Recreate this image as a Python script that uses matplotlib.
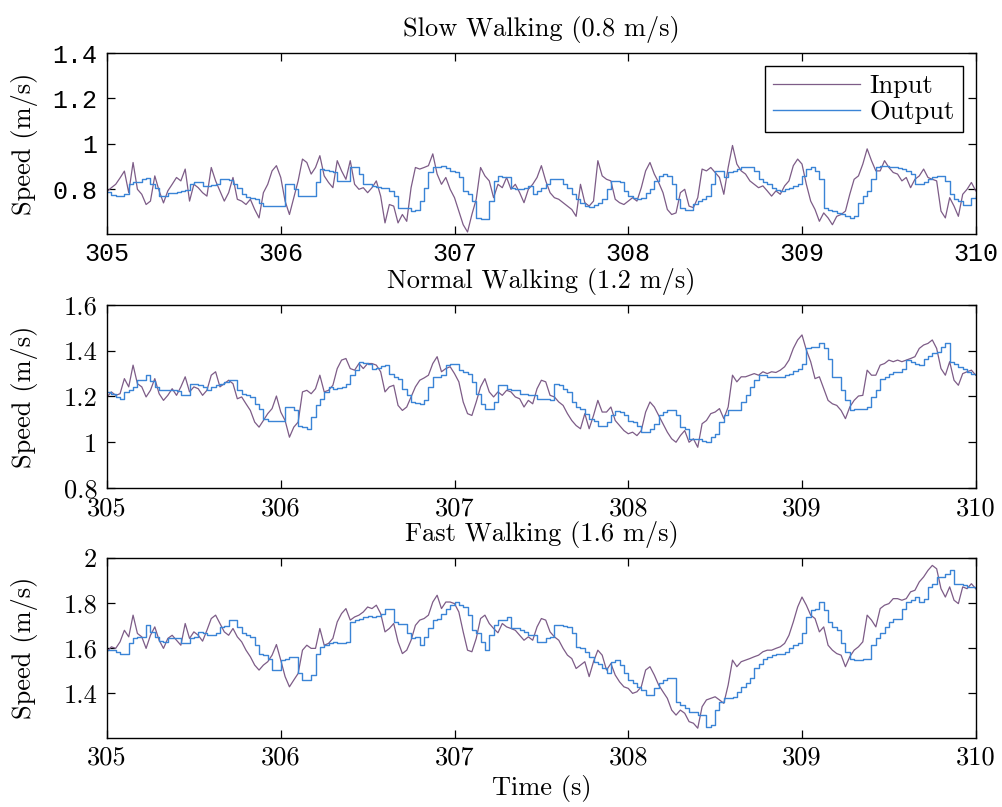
import matplotlib
matplotlib.use('Agg')
import matplotlib.pyplot as plt
import numpy as np
from matplotlib.ticker import FuncFormatter

plt.rcParams['font.family'] = 'cmr10'
plt.rcParams['mathtext.fontset'] = 'cm'
plt.rcParams['axes.formatter.use_mathtext'] = True

# speed, one value every 25 ms from 305 s to 310 s
slow_in = [
    0.79, 0.807, 0.822, 0.85, 0.88, 0.785, 0.918, 0.80, 0.778, 0.733,
    0.748, 0.859, 0.793, 0.74, 0.793, 0.822, 0.852, 0.837, 0.889, 0.748,
    0.822, 0.807, 0.785, 0.77, 0.896, 0.837, 0.793, 0.748, 0.785, 0.852,
    0.756, 0.748, 0.733, 0.756, 0.711, 0.674, 0.785, 0.822, 0.881, 0.904,
    0.852, 0.748, 0.689, 0.763, 0.837, 0.933, 0.918, 0.867, 0.896, 0.948,
    0.859, 0.83, 0.807, 0.926, 0.881, 0.844, 0.926, 0.822, 0.80, 0.807,
    0.785, 0.807, 0.837, 0.77, 0.652, 0.733, 0.726, 0.652,
    0.689, 0.659, 0.807, 0.896, 0.889, 0.896, 0.904, 0.956, 0.867, 0.822,
    0.852, 0.80, 0.763, 0.704, 0.644, 0.612, 0.689, 0.756, 0.896, 0.859,
    0.837, 0.763, 0.822, 0.807, 0.852, 0.80, 0.822, 0.785, 0.741, 0.80,
    0.822, 0.852, 0.904, 0.837, 0.785, 0.763, 0.756, 0.741, 0.726, 0.711,
    0.681, 0.822, 0.741, 0.726, 0.748, 0.926, 0.859, 0.844, 0.837, 0.756,
    0.741, 0.733, 0.748, 0.763, 0.748, 0.807, 0.881, 0.918, 0.867, 0.83,
    0.785, 0.711, 0.689, 0.696, 0.785, 0.80, 0.726,
    0.719, 0.763, 0.889, 0.881, 0.896, 0.874, 0.852, 0.778, 0.896, 0.993,
    0.911, 0.881, 0.867, 0.837, 0.822, 0.807, 0.815, 0.793, 0.77, 0.793,
    0.778, 0.815, 0.837, 0.904, 0.933, 0.911, 0.822, 0.748, 0.711, 0.659,
    0.696, 0.674, 0.644, 0.681, 0.689, 0.704, 0.778, 0.844, 0.859, 0.911,
    0.978, 0.926, 0.881, 0.881, 0.926, 0.896, 0.874, 0.867, 0.837, 0.852,
    0.807, 0.844, 0.859, 0.889, 0.852, 0.844, 0.837, 0.704, 0.674, 0.763,
    0.726, 0.681, 0.778, 0.80, 0.83, 0.793,
]
slow_out = [
    0.79, 0.775, 0.77, 0.77, 0.78, 0.822, 0.83, 0.833, 0.844, 0.849,
    0.822, 0.807, 0.77, 0.77, 0.785, 0.785, 0.79, 0.793, 0.796, 0.822,
    0.834, 0.83, 0.815, 0.815, 0.818, 0.822, 0.844, 0.844, 0.84, 0.822,
    0.807, 0.778, 0.766, 0.763, 0.756, 0.741, 0.726, 0.726, 0.726, 0.726,
    0.726, 0.822, 0.822, 0.80, 0.77, 0.77, 0.77, 0.77, 0.83, 0.889,
    0.885, 0.881, 0.874, 0.837, 0.837, 0.837, 0.896, 0.896, 0.867, 0.822,
    0.822, 0.815, 0.81, 0.807, 0.807, 0.793, 0.77, 0.719,
    0.719, 0.716, 0.704, 0.711, 0.748, 0.807, 0.874, 0.896, 0.899, 0.904,
    0.893, 0.881, 0.874, 0.852, 0.793, 0.778, 0.748, 0.674, 0.667, 0.667,
    0.748, 0.837, 0.859, 0.852, 0.852, 0.807, 0.80, 0.80, 0.807, 0.815,
    0.778, 0.793, 0.804, 0.822, 0.844, 0.844, 0.844, 0.822, 0.804, 0.778,
    0.756, 0.741, 0.726, 0.722, 0.733, 0.741, 0.756, 0.80, 0.837, 0.837,
    0.83, 0.793, 0.77, 0.763, 0.756, 0.763, 0.785, 0.80, 0.837, 0.859,
    0.867, 0.859, 0.822, 0.756, 0.719, 0.711, 0.711,
    0.736, 0.748, 0.756, 0.77, 0.822, 0.881, 0.881, 0.852, 0.874, 0.881,
    0.889, 0.896, 0.896, 0.896, 0.881, 0.844, 0.83, 0.822, 0.807, 0.796,
    0.793, 0.80, 0.807, 0.815, 0.822, 0.859, 0.889, 0.896, 0.881, 0.844,
    0.719, 0.711, 0.704, 0.696, 0.692, 0.681, 0.674, 0.681, 0.741, 0.77,
    0.793, 0.844, 0.896, 0.904, 0.904, 0.90, 0.896, 0.893, 0.889, 0.881,
    0.867, 0.822, 0.822, 0.83, 0.844, 0.855, 0.859, 0.859, 0.837, 0.778,
    0.756, 0.748, 0.733, 0.733, 0.763, 0.77,
]
normal_in = [
    1.198, 1.22, 1.205, 1.212, 1.278, 1.242, 1.337, 1.256, 1.242, 1.198,
    1.227, 1.278, 1.212, 1.183, 1.205, 1.234, 1.205, 1.242, 1.286, 1.22,
    1.242, 1.234, 1.205, 1.227, 1.293, 1.308, 1.242, 1.256, 1.271, 1.256,
    1.19, 1.198, 1.168, 1.139, 1.088, 1.066, 1.095, 1.125, 1.147, 1.202,
    1.132, 1.095, 1.022, 1.066, 1.088, 1.22, 1.227, 1.212, 1.234, 1.293,
    1.22, 1.227, 1.249, 1.322, 1.359, 1.366, 1.322, 1.315, 1.344, 1.322,
    1.344, 1.344, 1.337, 1.308, 1.22, 1.242, 1.249, 1.161,
    1.139, 1.154, 1.198, 1.242, 1.271, 1.281, 1.293, 1.344, 1.374, 1.308,
    1.322, 1.33, 1.30, 1.264, 1.176, 1.125, 1.117, 1.176, 1.242, 1.278,
    1.22, 1.198, 1.22, 1.205, 1.227, 1.22, 1.198, 1.19, 1.154, 1.183,
    1.168, 1.234, 1.271, 1.264, 1.205, 1.198, 1.176, 1.161, 1.125, 1.095,
    1.073, 1.059, 1.125, 1.059, 1.117, 1.183, 1.132, 1.132, 1.154, 1.095,
    1.073, 1.051, 1.037, 1.044, 1.029, 1.051, 1.132, 1.176, 1.154, 1.117,
    1.081, 1.044, 1.015, 1.0, 1.029, 1.051, 1.0,
    1.015, 0.978, 1.081, 1.095, 1.125, 1.132, 1.147, 1.103, 1.154, 1.293,
    1.264, 1.286, 1.286, 1.293, 1.30, 1.293, 1.308, 1.30, 1.308, 1.305,
    1.315, 1.33, 1.359, 1.41, 1.447, 1.469, 1.403, 1.352, 1.278, 1.286,
    1.234, 1.183, 1.168, 1.161, 1.139, 1.103, 1.154, 1.183, 1.202, 1.205,
    1.315, 1.293, 1.293, 1.337, 1.344, 1.359, 1.352, 1.359, 1.352, 1.359,
    1.366, 1.374, 1.41, 1.425, 1.432, 1.447, 1.41, 1.322, 1.293, 1.352,
    1.271, 1.249, 1.30, 1.308, 1.315, 1.293,
]
normal_out = [
    1.22, 1.212, 1.198, 1.19, 1.22, 1.227, 1.242, 1.271, 1.271, 1.293,
    1.267, 1.242, 1.227, 1.227, 1.227, 1.227, 1.222, 1.205, 1.205, 1.256,
    1.256, 1.249, 1.242, 1.227, 1.242, 1.249, 1.256, 1.264, 1.271, 1.271,
    1.227, 1.212, 1.205, 1.198, 1.168, 1.147, 1.103, 1.095, 1.095, 1.091,
    1.091, 1.154, 1.154, 1.139, 1.073, 1.066, 1.059, 1.11, 1.161, 1.19,
    1.22, 1.242, 1.234, 1.237, 1.242, 1.256, 1.293, 1.315, 1.352, 1.348,
    1.344, 1.322, 1.325, 1.334, 1.337, 1.30, 1.286, 1.278,
    1.234, 1.205, 1.176, 1.173, 1.168, 1.183, 1.242, 1.286, 1.286, 1.293,
    1.337, 1.344, 1.34, 1.315, 1.308, 1.30, 1.264, 1.212, 1.168, 1.147,
    1.147, 1.176, 1.249, 1.249, 1.234, 1.227, 1.227, 1.212, 1.212, 1.205,
    1.205, 1.19, 1.19, 1.188, 1.183, 1.256, 1.252, 1.234, 1.22, 1.176,
    1.154, 1.147, 1.125, 1.103, 1.095, 1.073, 1.073, 1.088, 1.117, 1.135,
    1.132, 1.117, 1.095, 1.088, 1.073, 1.044, 1.044, 1.059, 1.081, 1.117,
    1.132, 1.139, 1.139, 1.117, 1.066, 1.059, 1.015,
    1.012, 1.012, 1.007, 1.0, 1.022, 1.037, 1.088, 1.117, 1.139, 1.139,
    1.139, 1.176, 1.205, 1.242, 1.271, 1.293, 1.293, 1.286, 1.286, 1.286,
    1.286, 1.293, 1.30, 1.311, 1.322, 1.344, 1.41, 1.418, 1.418, 1.432,
    1.41, 1.366, 1.286, 1.286, 1.227, 1.183, 1.139, 1.147, 1.147, 1.147,
    1.154, 1.198, 1.227, 1.278, 1.286, 1.30, 1.308, 1.308, 1.322, 1.359,
    1.352, 1.34, 1.337, 1.366, 1.378, 1.388, 1.396, 1.418, 1.432, 1.352,
    1.344, 1.33, 1.322, 1.308, 1.30, 1.30,
]
fast_in = [
    1.584, 1.606, 1.599, 1.628, 1.679, 1.65, 1.746, 1.665, 1.65, 1.599,
    1.657, 1.694, 1.635, 1.599, 1.643, 1.657, 1.635, 1.613, 1.709, 1.643,
    1.672, 1.657, 1.631, 1.679, 1.731, 1.746, 1.709, 1.672, 1.657, 1.687,
    1.65, 1.628, 1.591, 1.562, 1.525, 1.503, 1.525, 1.54, 1.569, 1.616,
    1.547, 1.474, 1.429, 1.459, 1.488, 1.591, 1.613, 1.599, 1.599, 1.687,
    1.613, 1.621, 1.643, 1.716, 1.753, 1.775, 1.724, 1.738, 1.746, 1.76,
    1.782, 1.775, 1.79, 1.753, 1.672, 1.687, 1.709, 1.628,
    1.576, 1.591, 1.635, 1.701, 1.724, 1.731, 1.746, 1.804, 1.834, 1.775,
    1.804, 1.804, 1.797, 1.76, 1.672, 1.591, 1.584, 1.643, 1.731, 1.746,
    1.709, 1.687, 1.668, 1.709, 1.694, 1.687, 1.679, 1.657, 1.635, 1.65,
    1.635, 1.694, 1.731, 1.724, 1.672, 1.65, 1.635, 1.599, 1.569, 1.554,
    1.51, 1.525, 1.54, 1.474, 1.54, 1.591, 1.569, 1.503, 1.532, 1.481,
    1.451, 1.429, 1.422, 1.40, 1.407, 1.429, 1.503, 1.518, 1.481, 1.437,
    1.407, 1.378, 1.326, 1.304, 1.326, 1.312, 1.275,
    1.268, 1.246, 1.341, 1.371, 1.378, 1.385, 1.371, 1.356, 1.437, 1.547,
    1.518, 1.54, 1.547, 1.554, 1.562, 1.569, 1.584, 1.591, 1.591, 1.599,
    1.606, 1.621, 1.657, 1.716, 1.782, 1.826, 1.79, 1.746, 1.731, 1.672,
    1.694, 1.613, 1.591, 1.576, 1.569, 1.518, 1.562, 1.591, 1.606, 1.628,
    1.746, 1.724, 1.694, 1.775, 1.79, 1.797, 1.819, 1.819, 1.812, 1.819,
    1.849, 1.856, 1.893, 1.915, 1.944, 1.966, 1.951, 1.863, 1.826, 1.871,
    1.812, 1.797, 1.871, 1.863, 1.885, 1.863,
]
fast_out = [
    1.591, 1.591, 1.584, 1.576, 1.576, 1.621, 1.643, 1.65, 1.65, 1.701,
    1.672, 1.65, 1.631, 1.625, 1.643, 1.643, 1.643, 1.621, 1.621, 1.643,
    1.65, 1.672, 1.665, 1.657, 1.66, 1.665, 1.694, 1.699, 1.724, 1.724,
    1.694, 1.665, 1.657, 1.65, 1.613, 1.576, 1.569, 1.554, 1.503, 1.503,
    1.547, 1.551, 1.562, 1.562, 1.488, 1.459, 1.459, 1.481, 1.576, 1.606,
    1.613, 1.621, 1.628, 1.621, 1.621, 1.625, 1.716, 1.724, 1.731, 1.738,
    1.742, 1.738, 1.74, 1.753, 1.775, 1.775, 1.716, 1.709,
    1.709, 1.665, 1.643, 1.65, 1.613, 1.65, 1.687, 1.724, 1.731, 1.753,
    1.775, 1.79, 1.804, 1.79, 1.782, 1.746, 1.679, 1.665, 1.628, 1.591,
    1.657, 1.701, 1.724, 1.724, 1.738, 1.687, 1.687, 1.679, 1.672, 1.657,
    1.657, 1.628, 1.628, 1.643, 1.65, 1.701, 1.701, 1.699, 1.694, 1.665,
    1.606, 1.599, 1.584, 1.562, 1.54, 1.532, 1.51, 1.488, 1.54, 1.547,
    1.525, 1.488, 1.459, 1.444, 1.429, 1.415, 1.393, 1.393, 1.422, 1.444,
    1.459, 1.466, 1.466, 1.363, 1.349, 1.334, 1.319,
    1.319, 1.304, 1.304, 1.253, 1.26, 1.326, 1.363, 1.378, 1.378, 1.385,
    1.407, 1.429, 1.444, 1.466, 1.51, 1.532, 1.554, 1.562, 1.569, 1.572,
    1.576, 1.584, 1.599, 1.613, 1.621, 1.665, 1.738, 1.768, 1.775, 1.804,
    1.768, 1.716, 1.694, 1.679, 1.621, 1.584, 1.554, 1.547, 1.547, 1.551,
    1.554, 1.613, 1.643, 1.665, 1.694, 1.716, 1.731, 1.731, 1.775, 1.804,
    1.812, 1.826, 1.804, 1.819, 1.871, 1.885, 1.915, 1.915, 1.929, 1.944,
    1.885, 1.885, 1.881, 1.871, 1.871, 1.863,
]

titles = ['Slow Walking (0.8 m/s)', 'Normal Walking (1.2 m/s)', 'Fast Walking (1.6 m/s)']
ylims = [(0.603, 1.4), (0.8, 1.6), (1.204, 2.0)]
yticks = [[0.8, 1.0, 1.2, 1.4], [0.8, 1.0, 1.2, 1.4, 1.6], [1.4, 1.6, 1.8, 2.0]]
xticks = [305, 306, 307, 308, 309, 310]

c_in = '#7d5c87'
c_out = '#3a84d6'
fs = 19

fig = plt.figure(figsize=(10.02, 8.07), dpi=100)
boxes = [[0.1068, 0.710, 0.867, 0.2243],
         [0.1068, 0.3953, 0.867, 0.2268],
         [0.1068, 0.0859, 0.867, 0.2230]]
series = [(slow_in, slow_out), (normal_in, normal_out), (fast_in, fast_out)]

for i, (inp, out) in enumerate(series):
    ax = fig.add_axes(boxes[i])
    t_in = np.linspace(305, 310, len(inp))
    t_out = np.linspace(305, 310, len(out))
    ax.plot(t_in, inp, color=c_in, lw=0.9, label='Input')
    ax.step(t_out, out, where='post', color=c_out, lw=1.0, label='Output')
    ax.set_xlim(305, 310)
    ax.set_ylim(*ylims[i])
    ax.set_xticks(xticks)
    ax.set_yticks(yticks[i])
    ax.yaxis.set_major_formatter(FuncFormatter(lambda v, p: '%g' % v))
    ax.xaxis.set_major_formatter(FuncFormatter(lambda v, p: '%d' % v))
    ax.tick_params(direction='in', top=True, right=True, length=6, width=0.9,
                   labelsize=fs, pad=7)
    ax.tick_params(axis='x', pad=6)
    for s in ax.spines.values():
        s.set_linewidth(1.0)
    ax.set_title(titles[i], fontsize=fs, pad=12)
    ax.set_ylabel('Speed (m/s)', fontsize=fs)
    ax.yaxis.set_label_coords(-0.08, 0.5)
    if i == 0:
        # top panel uses a typewriter face for its tick labels
        for lab in ax.get_xticklabels() + ax.get_yticklabels():
            lab.set_fontfamily('Liberation Mono')
            lab.set_fontsize(18)
        ax.legend(loc='upper right', fontsize=fs, frameon=True, fancybox=False,
                  edgecolor='black', framealpha=1, borderpad=0.3,
                  labelspacing=0.1, handlelength=3.3, handletextpad=0.35,
                  borderaxespad=0.5).get_frame().set_linewidth(1.0)
    if i == 2:
        ax.set_xlabel('Time (s)', fontsize=fs, labelpad=4)

fig.savefig('out.png', dpi=100)
